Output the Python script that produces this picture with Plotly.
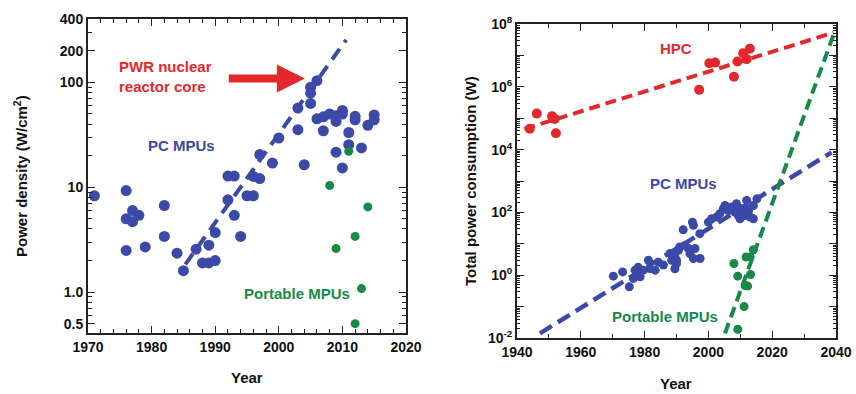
import numpy as np
import plotly.graph_objects as go

# ---------------- data: left panel (power density, W/cm^2) ----------------
pc_years_l = [1971, 1976, 1976, 1976, 1977, 1977, 1978, 1979, 1982, 1982, 1984, 1985,
              1987, 1988, 1989, 1989, 1990, 1990, 1992, 1993, 1992, 1993, 1994, 1995,
              1996, 1996, 1997, 1997, 1999, 2000, 2003, 2003, 2004, 2005, 2005, 2005,
              2006, 2006, 2007, 2007, 2008, 2009, 2009, 2009, 2010, 2010, 2010, 2011,
              2011, 2012, 2012, 2013, 2014, 2015, 2015]
pc_vals_l = [8.3, 9.3, 5.0, 2.5, 6.0, 4.7, 5.4, 2.7, 6.7, 3.4, 2.35, 1.6,
             2.57, 1.9, 2.8, 1.9, 2.0, 3.7, 12.8, 12.8, 7.6, 5.4, 3.4, 8.3,
             8.3, 12.7, 12.1, 20.5, 17.0, 29.5, 57.0, 35.4, 16.4, 90.0, 79.0, 63.0,
             104.0, 45.0, 47.0, 34.6, 50.0, 48.0, 42.5, 21.6, 54.0, 50.0, 15.3, 33.3,
             25.5, 47.5, 44.0, 23.7, 39.0, 49.0, 44.0]
port_years_l = [2008, 2009, 2011, 2012, 2012, 2013, 2014]
port_vals_l = [10.4, 2.6, 22.0, 3.4, 0.5, 1.08, 6.5]
pc_trend_years_l = [1985.3, 2010.6]
pc_trend_vals_l = [1.84, 255.0]
arrow_years = [1991.9, 2004.1]
arrow_vals = [109.0, 109.0]

# ---------------- data: right panel (total power, W) ----------------
hpc_years = [1944, 1946.2, 1951, 1951.8, 1952.2, 1997.1, 2000.3, 2002.1, 2008, 2009.1,
             2010.9, 2012, 2013]
hpc_vals = [4.6e4, 1.4e5, 1.15e5, 9.5e4, 3.3e4, 8e5, 5.6e6, 5.9e6, 2.1e6, 6.4e6,
            1.17e7, 7.6e6, 1.64e7]
pc_years_r = [1970.2, 1973.1, 1975.2, 1976.5, 1977, 1977.5, 1978, 1978.6, 1979.6, 1981.2,
              1981.7, 1983.3, 1984.3, 1985.9, 1988, 1988.5, 1989.5, 1990, 1990.6, 1989.5,
              1990, 1991, 1992.7, 1993.7, 1994.2, 1995.8, 1995.3, 1997.4, 1992.1, 1995,
              1995.3, 1997.3, 2000, 2001, 2002.6, 2003.6, 2004.7, 2005.2, 2006.2, 2007.3,
              2008.3, 2008.8, 2009.4, 2009.9, 2010.4, 2011, 2012, 2012.6, 2013.1, 2014.1,
              2014.1, 2015.2, 2011.5]
pc_vals_r = [0.93, 1.27, 0.43, 0.79, 1.45, 1.12, 1.8, 0.89, 1.45, 3.0,
             1.62, 1.45, 2.6, 2.1, 4.9, 3.0, 3.8, 2.35, 6.2, 1.6,
             3.0, 7.9, 8.9, 7.1, 4.9, 7.1, 3.4, 3.4, 28, 49,
             39, 21, 49, 63, 71, 91, 132, 166, 115, 148,
             102, 190, 79, 63, 132, 102, 240, 115, 71, 63,
             166, 270, 79]
port_years_r = [2008, 2009.2, 2011.5, 2012.3, 2013.2, 2011.8, 2013.1, 2014.1, 2011.2, 2009.2]
port_vals_r = [2.35, 0.93, 0.47, 0.45, 1.05, 3.8, 3.8, 6.5, 0.1, 0.019]
hpc_trend_years = [1942.3, 2039.2]
hpc_trend_vals = [4.54e4, 5.3e7]
pc_trend_years_r = [1947.2, 2038.6]
pc_trend_vals_r = [0.0141, 8200.0]
port_trend_years = [2005.2, 2039.2]
port_trend_vals = [0.0141, 4.47e7]

left_ytick_vals = [0.5, 1, 10, 100, 200, 400]
left_ytick_text = ["0.5", "1.0", "10", "100", "200", "400"]
right_ytick_exps = list(range(-2, 9))

BLUE = "#3b49a8"
RED = "#e3282c"
GREEN = "#178a48"
FONT = "Liberation Sans"
W, H = 856, 394

fig = go.Figure()


def dots(x, y, color, size, xa, ya):
    fig.add_trace(go.Scatter(x=x, y=y, mode="markers", xaxis=xa, yaxis=ya,
                             marker=dict(color=color, size=size, line=dict(width=0)),
                             showlegend=False, hoverinfo="skip"))


def dash(x, y, color, xa, ya, pattern="13px,8px", width=4):
    fig.add_trace(go.Scatter(x=x, y=y, mode="lines", xaxis=xa, yaxis=ya,
                             line=dict(color=color, width=width, dash=pattern),
                             showlegend=False, hoverinfo="skip"))


# left panel
dash(pc_trend_years_l, pc_trend_vals_l, BLUE, "x", "y")
dots(pc_years_l, pc_vals_l, BLUE, 11, "x", "y")
dots(port_years_l, port_vals_l, GREEN, 9, "x", "y")
# right panel
dash(hpc_trend_years, hpc_trend_vals, RED, "x2", "y2", "11px,6px")
dash(pc_trend_years_r, pc_trend_vals_r, BLUE, "x2", "y2", "14px,7px", 4.5)
dash(port_trend_years, port_trend_vals, GREEN, "x2", "y2", "11px,6px")
dots(hpc_years, hpc_vals, RED, 10, "x2", "y2")
dots(pc_years_r, pc_vals_r, BLUE, 9, "x2", "y2")
dots(port_years_r, port_vals_r, GREEN, 9, "x2", "y2")

tickfont = dict(family=FONT, size=14, color="#111", weight="bold")
common = dict(showline=True, linewidth=2, linecolor="#222", mirror="ticks",
              ticks="inside", ticklen=7, tickwidth=1.3, tickcolor="#222",
              showgrid=False, zeroline=False, tickfont=tickfont, automargin=False)

left_minor = []
for d in [0.1, 1, 10, 100]:
    for m in range(2, 10):
        v = m * d
        if 0.39 < v < 400 and v not in left_ytick_vals:
            left_minor.append(v)

right_minor = []
for e in range(-2, 8):
    for m in range(2, 10):
        right_minor.append(m * 10.0 ** e)

fig.update_layout(
    width=W, height=H, margin=dict(l=0, r=0, t=0, b=0, autoexpand=False),
    paper_bgcolor="white", plot_bgcolor="white",
    xaxis=dict(domain=[88 / W, 406 / W], range=[1970, 2020], anchor="y",
               tickmode="array", tickvals=list(range(1970, 2021, 10)),
               minor=dict(tickmode="array", tickvals=list(range(1972, 2020, 2)),
                          ticklen=4, ticks="inside", tickcolor="#222"),
               **common),
    yaxis=dict(domain=[(H - 333) / H, (H - 19) / H], type="log", range=[-0.39, 2.605],
               anchor="x", tickmode="array", tickvals=left_ytick_vals,
               ticktext=left_ytick_text,
               minor=dict(tickmode="array", tickvals=left_minor, ticklen=4,
                          ticks="inside", tickcolor="#222"),
               **common),
    xaxis2=dict(domain=[517 / W, 836 / W], range=[1940, 2040], anchor="y2",
                tickmode="array", tickvals=list(range(1940, 2041, 20)),
                minor=dict(tickmode="array", tickvals=list(range(1950, 2040, 20)),
                           ticklen=4, ticks="inside", tickcolor="#222"),
                **common),
    yaxis2=dict(domain=[(H - 338) / H, (H - 24) / H], type="log", range=[-2, 8],
                anchor="x2", tickmode="array",
                tickvals=[10.0 ** e for e in right_ytick_exps],
                ticktext=[("10<sup>%d</sup>" % e) if e % 2 == 0 else "" for e in right_ytick_exps],
                minor=dict(tickmode="array", tickvals=right_minor, ticklen=3,
                           ticks="inside", tickcolor="#222"),
                **common),
)

ann = []


def txt(x, y, s, color, size=15, xanchor="center", align="center", angle=0):
    ann.append(dict(x=x / W, y=1 - y / H, xref="paper", yref="paper", text=s,
                    showarrow=False, xanchor=xanchor, yanchor="middle", align=align,
                    textangle=angle,
                    font=dict(family=FONT, size=size, color=color, weight="bold")))


txt(117, 77, "PWR nuclear<br>reactor core", RED, xanchor="left", align="left")
txt(181, 145, "PC MPUs", BLUE)
txt(297, 293, "Portable MPUs", GREEN)
txt(247, 377, "Year", "#111", size=15)
txt(20, 176, "Power density (W/cm<sup>2</sup>)", "#111", size=15, angle=-90)

txt(676, 48, "HPC", RED)
txt(683, 183, "PC MPUs", BLUE)
txt(665, 316, "Portable MPUs", GREEN)
txt(676, 383, "Year", "#111", size=15)
txt(470, 181, "Total power consumption (W)", "#111", size=15, angle=-90)

# red arrow (data coordinates, log axis uses log10)
ann.append(dict(x=arrow_years[1], y=float(np.log10(arrow_vals[1])), xref="x", yref="y",
                ax=arrow_years[0], ay=float(np.log10(arrow_vals[0])), axref="x", ayref="y",
                text="", showarrow=True, arrowhead=2, arrowsize=0.7, arrowwidth=8,
                arrowcolor=RED, standoff=0))

fig.update_layout(annotations=ann)
fig.write_html("out.html")
